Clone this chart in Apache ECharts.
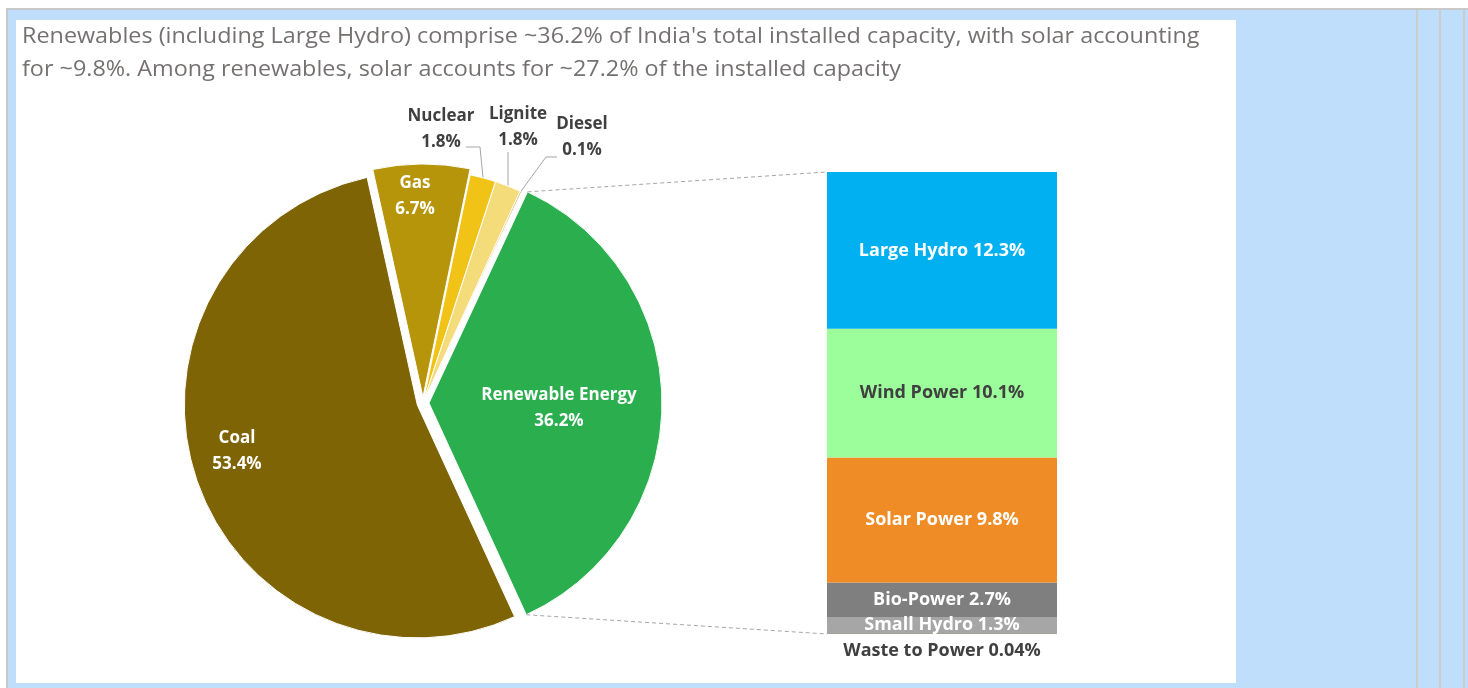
<!DOCTYPE html>
<html>
<head>
<meta charset="utf-8">
<script src="https://cdn.jsdelivr.net/npm/echarts@6/dist/echarts.min.js"></script>
<style>
html,body{margin:0;padding:0;background:#fff;}
#c{width:1468px;height:688px;}
</style>
</head>
<body>
<div id="c"></div>
<script>
// ---- data ----
const titleLines = [
  "Renewables (including Large Hydro) comprise ~36.2% of India's total installed capacity, with solar accounting",
  "for ~9.8%. Among renewables, solar accounts for ~27.2% of the installed capacity"
];
const pieNames = ['Renewable Energy', 'Coal', 'Gas', 'Nuclear', 'Lignite', 'Diesel'];
const pieValues = [36.2, 53.4, 6.7, 1.8, 1.8, 0.1];
const barNames = ['Waste to Power', 'Small Hydro', 'Bio-Power', 'Solar Power', 'Wind Power', 'Large Hydro'];
const barValues = [0.04, 1.3, 2.7, 9.8, 10.1, 12.3];

// ---- styles ----
const pieColors = ['#2BAE4E', '#7E6405', '#B7950B', '#F1C317', '#F5DC7A', '#D9A63A'];
const barColors = ['#4A4020', '#A6A6A6', '#7F7F7F', '#EF8C26', '#9BFE9A', '#00B0F0'];
const barLabelColors = ['#404040', '#ffffff', '#ffffff', '#ffffff', '#404040', '#ffffff'];
const FONT = '"Open Sans", Lato, sans-serif';
const exploded = [true, true, true, false, false, false];
const insideLabel = [true, true, true, false, false, false];

const cx = 423, cy = 403, R = 233, startAngle = 65, offset = 6;
const gridL = 827, gridT = 172, gridW = 230, gridH = 462;

const total = pieValues.reduce((a, b) => a + b, 0);
const barTotal = barValues.reduce((a, b) => a + b, 0);
// slice angles
const angles = [];
let cum = 0;
pieValues.forEach(v => {
  const a0 = startAngle - cum / total * 360;
  cum += v;
  const a1 = startAngle - cum / total * 360;
  angles.push([a0, a1, (a0 + a1) / 2]);
});
const rad = d => d * Math.PI / 180;
function edgePoint(i, ang) {
  const m = rad(angles[i][2]);
  const ox = exploded[i] ? offset * Math.cos(m) : 0;
  const oy = exploded[i] ? -offset * Math.sin(m) : 0;
  return [cx + ox + R * Math.cos(rad(ang)), cy + oy - R * Math.sin(rad(ang))];
}

// label placements (text positions)
const labelPos = {
  0: [559, 408], 1: [237, 451], 2: [415, 196],
  3: [441, 129], 4: [518, 127], 5: [582, 137]
};
const leaderBends = {
  3: [[480, 147], [466, 147]],
  4: [[508, 168], [508, 152]],
  5: [[546, 157], [557, 157]]
};

const chart = echarts.init(document.getElementById('c'), null, {renderer: 'canvas'});

const barSeries = barNames.map((n, i) => ({
  name: n,
  type: 'bar',
  stack: 'ren',
  barWidth: '100%',
  data: [barValues[i]],
  itemStyle: {color: barColors[i]},
  silent: true,
  label: {
    show: true,
    position: i === 0 ? 'bottom' : 'inside',
    distance: 8,
    formatter: '{a} {c}%',
    color: barLabelColors[i],
    fontFamily: FONT,
    fontWeight: 'bold',
    fontSize: 18
  }
}));

const topCorner = edgePoint(0, angles[0][0]);
const botCorner = edgePoint(0, angles[0][1]);

const insideTexts = pieNames.map((n, i) => insideLabel[i] ? {
  type: 'text', z: 10, silent: true, x: labelPos[i][0], y: labelPos[i][1],
  style: {
    text: n + '\n' + pieValues[i] + '%',
    font: 'bold 17px ' + FONT, fill: '#ffffff',
    align: 'center', verticalAlign: 'middle', lineHeight: 26
  }
} : null).filter(Boolean);

const option = {
  animation: false,
  graphic: [
    {type: 'rect', z: -20, silent: true, shape: {x: 0, y: 0, width: 1468, height: 688}, style: {fill: '#BEDEFB'}},
    {type: 'rect', z: -19, silent: true, shape: {x: 0, y: 0, width: 1468, height: 8}, style: {fill: '#FFFFFF'}},
    {type: 'rect', z: -19, silent: true, shape: {x: 0, y: 8, width: 1468, height: 2}, style: {fill: '#C8C8C8'}},
    {type: 'rect', z: -19, silent: true, shape: {x: 0, y: 0, width: 6, height: 688}, style: {fill: '#FFFFFF'}},
    {type: 'rect', z: -19, silent: true, shape: {x: 6, y: 8, width: 2, height: 680}, style: {fill: '#C8C8C8'}},
    {type: 'rect', z: -19, silent: true, shape: {x: 1416, y: 10, width: 2, height: 678}, style: {fill: '#CCCCCC'}},
    {type: 'rect', z: -19, silent: true, shape: {x: 1439, y: 10, width: 2, height: 678}, style: {fill: '#CCCCCC'}},
    {type: 'rect', z: -19, silent: true, shape: {x: 1463, y: 10, width: 2, height: 678}, style: {fill: '#CCCCCC'}},
    {type: 'rect', z: -18, silent: true, shape: {x: 16, y: 20, width: 1220, height: 663}, style: {fill: '#FFFFFF'}},
    {type: 'text', z: 5, silent: true, x: 22, y: 27, scaleX: 1.113,
      style: {text: titleLines[0], font: '21px ' + FONT, fill: '#767171'}},
    {type: 'text', z: 5, silent: true, x: 22, y: 60, scaleX: 1.113,
      style: {text: titleLines[1], font: '21px ' + FONT, fill: '#767171'}},
    {type: 'line', z: 5, silent: true,
      shape: {x1: topCorner[0], y1: topCorner[1], x2: gridL, y2: gridT},
      style: {stroke: '#A6A6A6', lineWidth: 1, lineDash: [4, 3]}},
    {type: 'line', z: 5, silent: true,
      shape: {x1: botCorner[0], y1: botCorner[1], x2: gridL, y2: gridT + gridH},
      style: {stroke: '#A6A6A6', lineWidth: 1, lineDash: [4, 3]}}
  ].concat(insideTexts),
  grid: {left: gridL, top: gridT, width: gridW, height: gridH},
  xAxis: {type: 'category', data: ['Renewables'], show: false},
  yAxis: {type: 'value', min: 0, max: barTotal, show: false, splitLine: {show: false}},
  series: [
    {
      type: 'pie',
      center: [cx, cy],
      radius: R,
      startAngle: startAngle,
      clockwise: true,
      avoidLabelOverlap: false,
      selectedMode: 'multiple',
      selectedOffset: offset,
      emphasis: {disabled: true},
      select: {itemStyle: {borderColor: '#fff', borderWidth: 1}},
      itemStyle: {borderColor: '#fff', borderWidth: 1},
      data: pieNames.map((n, i) => ({
        name: n,
        value: pieValues[i],
        selected: exploded[i],
        itemStyle: {color: pieColors[i]},
        label: {show: !insideLabel[i]},
        labelLine: {show: !insideLabel[i], lineStyle: {color: '#A6A6A6', width: 1}}
      })),
      label: {
        show: true,
        position: 'outside',
        formatter: '{b}\n{c}%',
        fontFamily: FONT,
        fontWeight: 'bold',
        fontSize: 17,
        lineHeight: 26,
        color: '#404040',
        align: 'center',
        overflow: 'none'
      },
      labelLayout: function (p) {
        const i = p.dataIndex;
        const pos = labelPos[i];
        const out = {x: pos[0], y: pos[1], align: 'center', verticalAlign: 'middle'};
        if (leaderBends[i]) {
          const start = edgePoint(i, angles[i][2]);
          out.labelLinePoints = [start, leaderBends[i][0], leaderBends[i][1]];
        }
        return out;
      }
    }
  ].concat(barSeries)
};
chart.setOption(option);
</script>
</body>
</html>
